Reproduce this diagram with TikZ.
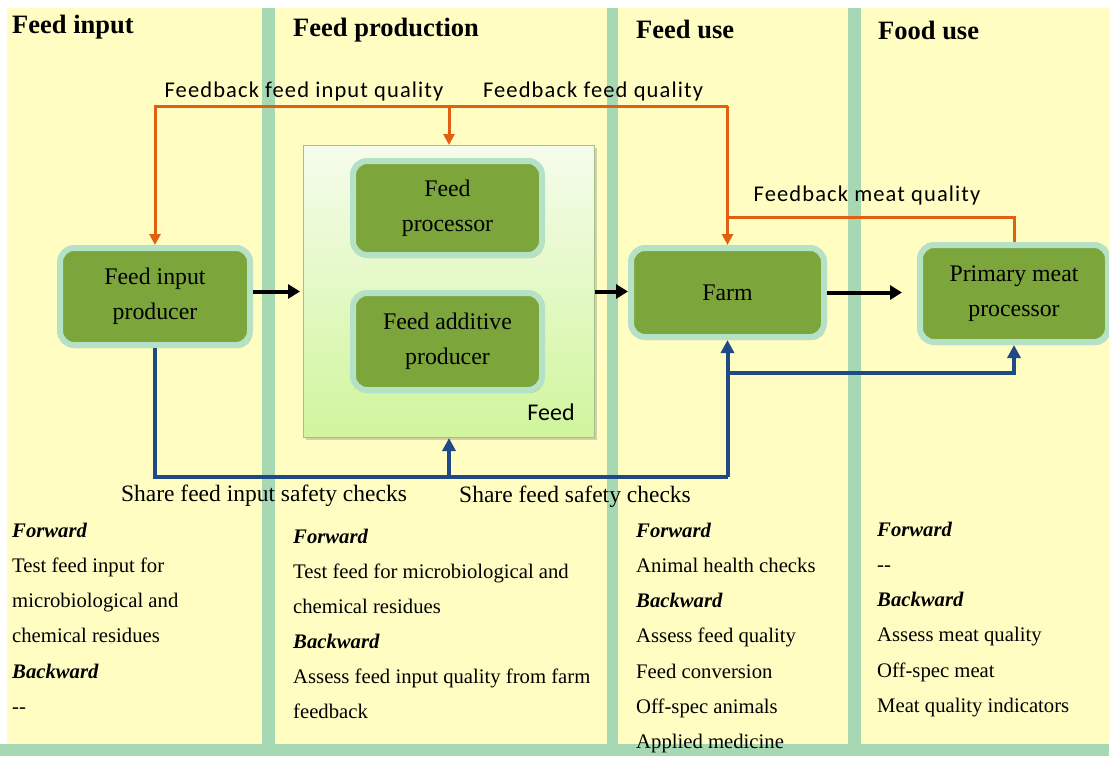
\documentclass[tikz,border=0pt]{standalone}
\usepackage{fontspec}
\setmainfont{Liberation Serif}
\newfontfamily\calibfont[LetterSpace=5]{Carlito}
\newfontfamily\calibplain{Carlito}
\usetikzlibrary{arrows.meta,shadows,positioning}

\definecolor{panelyellow}{HTML}{FFFDC2}
\definecolor{lanegreen}{HTML}{A6D9B3}
\definecolor{actorgreen}{HTML}{7CA53B}
\definecolor{actorrim}{HTML}{B5E1C6}
\definecolor{fborange}{HTML}{E0600F}
\definecolor{sharenavy}{HTML}{1F4A86}
\definecolor{feedtop}{HTML}{F6FCEC}
\definecolor{feedbottom}{HTML}{D0F59C}
\definecolor{feedrim}{HTML}{A3BF8A}

\begin{document}
\begin{tikzpicture}[x=1pt,y=-1pt]
                \tikzset{actor/.style = {shape=rectangle, rounded corners=14pt, fill=actorgreen, draw=actorrim, line width=6pt, align=center, font=\fontsize{23.8}{35}\selectfont, drop shadow={opacity=0.35, shadow xshift=2pt, shadow yshift=-3pt}}}
                \tikzset{feedbox/.style = {shape=rectangle, draw=feedrim, line width=1pt, top color=feedtop, bottom color=feedbottom, drop shadow={opacity=0.35, shadow xshift=2pt, shadow yshift=-2pt}}}
                \tikzset{lanetitle/.style = {font=\fontsize{26.5}{30}\selectfont\bfseries, anchor=base west, inner sep=0pt}}
                \tikzset{body/.style = {font=\fontsize{20.7}{24}\selectfont, anchor=base west, inner sep=0pt}}
                \tikzset{fblabel/.style = {font=\calibfont\fontsize{22.5}{26}\selectfont, inner sep=0pt}}
                \tikzset{sharelabel/.style = {font=\fontsize{23.5}{26}\selectfont, inner sep=0pt}}
                \tikzset{flow/.style = {line width=4pt, -{Triangle[length=12pt,width=14pt]}}}
                \tikzset{fb/.style = {draw=fborange, line width=3pt}}
                \tikzset{fbtip/.style = {-{Triangle[length=11pt,width=11pt]}}}
                \tikzset{share/.style = {draw=sharenavy, line width=4pt}}
                \tikzset{sharetip/.style = {-{Triangle[length=13pt,width=13pt]}}}

                % lanes
                \useasboundingbox (0,0) rectangle (1109,756);
                \fill[white] (0,0) rectangle (1109,756);
                \fill[panelyellow] (7,8) rectangle (1109,744);
                \foreach \xa/\xb in {262/275, 607/618, 848/861}
                    \fill[lanegreen] (\xa,8) rectangle (\xb,744);
                \fill[lanegreen] (0,744) rectangle (1109,756);

                \node[lanetitle] (tin) at (12,33) {Feed input};
                \node[lanetitle] (tprod) at (293,36) {Feed production};
                \node[lanetitle] (tuse) at (636,38) {Feed use};
                \node[lanetitle] (tfood) at (878,39) {Food use};

                % actors
                \node[feedbox, minimum width=291pt, minimum height=292pt] (feed) at (449,291.5) {};
                \node[actor, minimum width=190pt, minimum height=97pt] (fip) at (155,296.5) {Feed input\\producer};
                \node[actor, minimum width=189pt, minimum height=94pt] (fp) at (447.5,208) {Feed\\processor};
                \node[actor, minimum width=189pt, minimum height=97pt] (fap) at (447.5,341.5) {Feed additive\\producer};
                \node[actor, minimum width=193pt, minimum height=89pt] (farm) at (727.5,292.5) {Farm};
                \node[actor, minimum width=188pt, minimum height=97pt] (pmp) at (1014,293.5) {Primary meat\\processor};
                \node[fblabel, font=\calibplain\fontsize{24}{28}\selectfont] (feedlbl) at (551,412) {Feed};

                \coordinate (fbtop) at (0,106);
                \coordinate (fbmeat) at (0,217);
                \coordinate (sharebot) at (0,477);
                \coordinate (sharemeat) at (0,373);

                % product flow
                \draw[flow] (fip.east |- feed.west) -- ([xshift=-3pt]feed.west);
                \draw[flow] (feed.east) -- (farm.west |- feed.east);
                \draw[flow, shorten >=15pt] (farm.east) -- (farm.east -| pmp.west);

                % feedback
                \draw[fb, fbtip] (farm.north |- fbtop) -| (fip.north);
                \draw[fb, fbtip] (feed.north |- fbtop) -- (feed.north);
                \draw[fb, fbtip] (farm.north |- fbtop) -- (farm.north);
                \draw[fb] (pmp.north) |- (farm.north |- fbmeat);
                \node[fblabel] (fbinq) at (304,91) {Feedback feed input quality};
                \node[fblabel] (fbfq) at (593,91) {Feedback feed quality};
                \node[fblabel] (fbmq) at (867,195) {Feedback meat quality};

                % safety checks
                \draw[share] (fip.south) |- (farm.south |- sharebot);
                \draw[share, sharetip] (farm.south |- sharebot) -- (farm.south);
                \draw[share, sharetip] (feed.south |- sharebot) -- (feed.south);
                \draw[share, sharetip] (farm.south |- sharemeat) -| (pmp.south);
                \node[sharelabel] (shin) at (264,496) {Share feed input safety checks};
                \node[sharelabel] (shf) at (575,497) {Share feed safety checks};

                % checks per lane
                \foreach \txt [count=\i from 0] in {{\bfseries\itshape Forward}, Test feed input for, microbiological and, chemical residues, {\bfseries\itshape Backward}, -{}-}
                    \node[body] (cin\i) at (12,537+35.3*\i) {\txt};
                \foreach \txt [count=\i from 0] in {{\bfseries\itshape Forward}, Test feed for microbiological and, chemical residues, {\bfseries\itshape Backward}, Assess feed input quality from farm, feedback}
                    \node[body] (cprod\i) at (293,543+35.1*\i) {\txt};
                \foreach \txt [count=\i from 0] in {{\bfseries\itshape Forward}, Animal health checks, {\bfseries\itshape Backward}, Assess feed quality, Feed conversion, Off-spec animals, Applied medicine}
                    \node[body] (cuse\i) at (636,537+35.3*\i) {\txt};
                \foreach \txt [count=\i from 0] in {{\bfseries\itshape Forward}, -{}-, {\bfseries\itshape Backward}, Assess meat quality, Off-spec meat, Meat quality indicators}
                    \node[body] (cfood\i) at (877,536+35.3*\i) {\txt};
            \end{tikzpicture}
\end{document}
